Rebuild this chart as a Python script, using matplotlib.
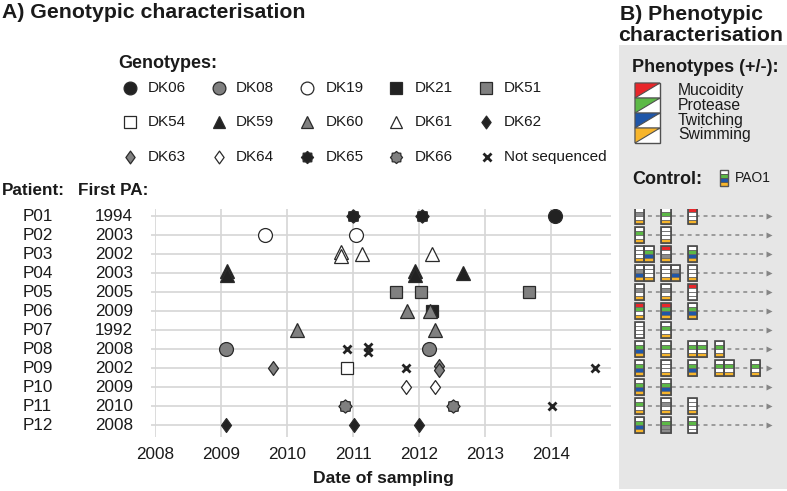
import numpy as np
import matplotlib
matplotlib.use('Agg')
import matplotlib.pyplot as plt
from matplotlib.path import Path
from matplotlib.patches import Rectangle, Polygon
from matplotlib.transforms import blended_transform_factory

plt.rcParams['font.family'] = ['Liberation Sans', 'DejaVu Sans']

# ---------------- data ----------------
patients = ['P01', 'P02', 'P03', 'P04', 'P05', 'P06', 'P07', 'P08', 'P09', 'P10', 'P11', 'P12']
first_pa = ['1994', '2003', '2002', '2003', '2005', '2009', '1992', '2008', '2002', '2009', '2010', '2008']

sample_patient = ['P01', 'P01', 'P01',
                  'P02', 'P02',
                  'P03', 'P03', 'P03', 'P03',
                  'P04', 'P04', 'P04', 'P04', 'P04',
                  'P05', 'P05', 'P05',
                  'P06', 'P06', 'P06',
                  'P07', 'P07',
                  'P08', 'P08', 'P08', 'P08', 'P08',
                  'P09', 'P09', 'P09', 'P09', 'P09', 'P09',
                  'P10', 'P10',
                  'P11', 'P11', 'P11',
                  'P12', 'P12', 'P12']
sample_date = [2011.00, 2012.05, 2014.06,
               2009.67, 2011.04,
               2010.82, 2010.82, 2011.14, 2012.19,
               2009.09, 2009.09, 2011.94, 2011.94, 2012.66,
               2011.65, 2012.03, 2013.66,
               2011.82, 2012.20, 2012.17,
               2010.15, 2012.24,
               2009.08, 2010.91, 2011.22, 2011.22, 2012.15,
               2009.79, 2010.91, 2011.80, 2012.30, 2012.30, 2014.66,
               2011.80, 2012.24,
               2010.88, 2012.51, 2014.02,
               2009.07, 2011.02, 2012.00]
sample_genotype = ['DK65', 'DK65', 'DK06',
                   'DK19', 'DK19',
                   'DK61', 'DK61', 'DK61', 'DK61',
                   'DK59', 'DK59', 'DK59', 'DK59', 'DK59',
                   'DK51', 'DK51', 'DK51',
                   'DK60', 'DK21', 'DK60',
                   'DK60', 'DK60',
                   'DK08', 'NS', 'NS', 'NS', 'DK08',
                   'DK63', 'DK54', 'NS', 'DK63', 'DK63', 'NS',
                   'DK64', 'DK64',
                   'DK66', 'DK66', 'NS',
                   'DK62', 'DK62', 'DK62']

genotypes = ['DK06', 'DK08', 'DK19', 'DK21', 'DK51',
             'DK54', 'DK59', 'DK60', 'DK61', 'DK62',
             'DK63', 'DK64', 'DK65', 'DK66', 'NS']
genotype_labels = ['DK06', 'DK08', 'DK19', 'DK21', 'DK51',
                   'DK54', 'DK59', 'DK60', 'DK61', 'DK62',
                   'DK63', 'DK64', 'DK65', 'DK66', 'Not sequenced']

xticks = [2008, 2009, 2010, 2011, 2012, 2013, 2014]

# phenotype isolates: patient, slot in the sequence, code
# code letters per segment (mucoidity, protease, twitching, swimming):
# colour letter = positive, 'w' = negative, 'n' = intermediate
pheno_patient = ['P01', 'P01', 'P01',
                 'P02', 'P02',
                 'P03', 'P03', 'P03', 'P03',
                 'P04', 'P04', 'P04', 'P04', 'P04',
                 'P05', 'P05', 'P05',
                 'P06', 'P06', 'P06',
                 'P07', 'P07',
                 'P08', 'P08', 'P08', 'P08', 'P08',
                 'P09', 'P09', 'P09', 'P09', 'P09', 'P09',
                 'P10', 'P10',
                 'P11', 'P11', 'P11',
                 'P12', 'P12', 'P12']
pheno_slot = [0, 2.8, 5.6,
              0, 2.8,
              0, 1, 2.8, 5.6,
              0, 1, 2.8, 3.8, 5.6,
              0, 2.8, 5.6,
              0, 2.8, 5.6,
              0, 2.8,
              0, 2.8, 5.6, 6.6, 8.4,
              0, 2.8, 5.6, 8.4, 9.4, 12.2,
              0, 2.8,
              0, 2.8, 5.6,
              0, 2.8, 5.6]
pheno_code = ['wnwy', 'wgwy', 'rwwy',
              'wgwy', 'wwwy',
              'wwwy', 'wgby', 'rwny', 'wgby',
              'wnby', 'wwwy', 'wwwy', 'wnby', 'wwwy',
              'wnwy', 'wnwy', 'rwww',
              'rgwy', 'rgby', 'wgby',
              'wwww', 'wgwy',
              'wgby', 'wgwy', 'wgwy', 'wgwy', 'wgwy',
              'wgby', 'wwwy', 'wgby', 'wgwy', 'wgwy', 'wgwy',
              'wgby', 'wgby',
              'wgwy', 'wnwy', 'wwwy',
              'wgby', 'wgnn', 'wgww']
phenotype_names = ['Mucoidity', 'Protease', 'Twitching', 'Swimming']
control_code = 'wgby'
arrow_end_slot = 13.63

# ---------------- styles ----------------
W, H = 787, 491
BLACK = '#222222'
GRAY = '#808080'
WHITE = '#ffffff'
EDGE = '#2a2a2a'
GRID = '#d6d6d6'
TXT = '#1a1a1a'
PCOL = {'r': '#e8262a', 'g': '#5cb946', 'b': '#1f56a8', 'y': '#f7b52b',
        'w': '#ffffff', 'n': '#8c8c8c'}
seg_letters = ['r', 'g', 'b', 'y']


def star_path(n=8, inner=0.8):
    ang = np.pi / 2 + np.arange(2 * n) * np.pi / n
    r = np.where(np.arange(2 * n) % 2 == 0, 1.0, inner)
    v = np.column_stack([r * np.cos(ang), r * np.sin(ang)])
    v = np.vstack([v, v[:1]])
    codes = [Path.MOVETO] + [Path.LINETO] * (2 * n - 1) + [Path.CLOSEPOLY]
    return Path(v, codes)


diamond = Path([(0, 1), (0.72, 0), (0, -1), (-0.72, 0), (0, 1)],
               [Path.MOVETO, Path.LINETO, Path.LINETO, Path.LINETO, Path.CLOSEPOLY])
star = star_path()

gstyle = {
    'DK06': ('o', BLACK, 10), 'DK08': ('o', GRAY, 10), 'DK19': ('o', WHITE, 10),
    'DK21': ('s', BLACK, 9), 'DK51': ('s', GRAY, 9), 'DK54': ('s', WHITE, 9),
    'DK59': ('^', BLACK, 10), 'DK60': ('^', GRAY, 10), 'DK61': ('^', WHITE, 10),
    'DK62': (diamond, BLACK, 10), 'DK63': (diamond, GRAY, 10), 'DK64': (diamond, WHITE, 10),
    'DK65': (star, BLACK, 9.5), 'DK66': (star, GRAY, 9.5), 'NS': ('x', BLACK, 5.5),
}

fig = plt.figure(figsize=(W / 100, H / 100), dpi=100)

# overlay axes in pixel coordinates for annotations
ov = fig.add_axes([0, 0, 1, 1])
ov.set_xlim(0, W)
ov.set_ylim(H, 0)
ov.axis('off')

# panel B background
ov.add_patch(Rectangle((619, 45), W - 619, 444, facecolor='#e6e6e6', edgecolor='none', zorder=0))

# ---------------- main axes ----------------
ax_bottom = 1 - 437 / H
ax_height = 228 / H
ax = fig.add_axes([155 / W, ax_bottom, 456 / W, ax_height])
ax.patch.set_alpha(0)
ax.set_xlim(2008, 2008 + 456 / 66)
ax.set_ylim(11.63, -0.37)
for s in ax.spines.values():
    s.set_visible(False)
ax.set_xticks(xticks)
ax.set_xticklabels([str(t) for t in xticks], fontsize=12.3, color=TXT)
ax.set_yticks(range(len(patients)))
ax.set_yticklabels([])
ax.tick_params(axis='x', length=0, pad=7)
ax.tick_params(axis='y', length=3, color=GRID, width=1.2)
ax.grid(True, color=GRID, linewidth=1.2)
ax.set_axisbelow(True)
ax.set_xlabel('Date of sampling', fontsize=12.6, fontweight='bold', color=TXT, labelpad=7)

pidx = {p: i for i, p in enumerate(patients)}
# offsets for duplicated samples (same patient, date, genotype)
keys = list(zip(sample_patient, sample_date, sample_genotype))
counts = {k: keys.count(k) for k in keys}
seen = {}
for p, d, g in keys:
    n = counts[(p, d, g)]
    k = seen.get((p, d, g), 0)
    seen[(p, d, g)] = k + 1
    off = 0.0 if n == 1 else (-0.1 + 0.2 * k / (n - 1)) * (1.3 if g == 'NS' else 1.0)
    y = pidx[p] + off
    m, fc, ms = gstyle[g]
    if g == 'NS':
        ax.plot(d, y, marker='x', ms=ms, mew=2.0, color=BLACK, ls='none', zorder=3)
    else:
        ax.plot(d, y, marker=m, ms=ms, mfc=fc, mec=EDGE, mew=0.9, ls='none', zorder=3)

# row labels
trans = blended_transform_factory(fig.transFigure, ax.transData)
for i, (p, f) in enumerate(zip(patients, first_pa)):
    fig.text(37.5 / W, i, p, transform=trans, ha='center', va='center', fontsize=12.3, color=TXT)
    fig.text(133 / W, i, f, transform=trans, ha='right', va='center', fontsize=12.3, color=TXT)

# headers / titles
ov.text(2, 17.5, 'A) Genotypic characterisation', fontsize=15.3, fontweight='bold', color=TXT, va='baseline')
ov.text(620, 19.5, 'B) Phenotypic', fontsize=15.3, fontweight='bold', color=TXT, va='baseline')
ov.text(618, 40.5, 'characterisation', fontsize=15.3, fontweight='bold', color=TXT, va='baseline')
ov.text(2, 195, 'Patient:', fontsize=12.3, fontweight='bold', color=TXT, va='baseline')
ov.text(78, 195, 'First PA:', fontsize=12.3, fontweight='bold', color=TXT, va='baseline')
ov.text(118, 68, 'Genotypes:', fontsize=13, fontweight='bold', color=TXT, va='baseline')

# genotype legend (5 columns x 3 rows)
col_m = [130, 219, 307, 396, 486]
col_t = [148, 236, 326, 415, 504]
row_y = [88, 122, 157]
for j, (g, lab) in enumerate(zip(genotypes, genotype_labels)):
    r, c = divmod(j, 5)
    m, fc, ms = gstyle[g]
    if g == 'NS':
        ov.plot(col_m[c] + 1, row_y[r], marker='x', ms=ms, mew=2.0, color=BLACK, ls='none')
    else:
        ov.plot(col_m[c], row_y[r], marker=m, ms=ms - 0.8, mfc=fc, mec=EDGE, mew=0.9, ls='none')
    ov.text(col_t[c], row_y[r], lab, fontsize=11, color=TXT, va='center', ha='left')

# phenotype legend
ov.text(632, 72, 'Phenotypes (+/-):', fontsize=13, fontweight='bold', color=TXT, va='baseline')
cx0, cw, chh, cy0 = 635, 25, 15, 83
for k, (name, letter) in enumerate(zip(phenotype_names, seg_letters)):
    y0 = cy0 + k * chh
    ov.add_patch(Rectangle((cx0, y0), cw, chh, facecolor='white', edgecolor='#505050', lw=1.0, zorder=2))
    ov.add_patch(Polygon([(cx0, y0), (cx0 + cw, y0), (cx0, y0 + chh)], closed=True,
                         facecolor=PCOL[letter], edgecolor='#505050', lw=0.8, zorder=3))
    ov.text(678, y0 + chh / 2 - 0.5, name, fontsize=11.3, color=TXT, va='center', ha='left')

ov.text(632, 184, 'Control:', fontsize=13, fontweight='bold', color=TXT, va='baseline')
for k, ch in enumerate(control_code):
    ov.add_patch(Rectangle((720, 170 + k * 4), 8, 4, facecolor=PCOL[ch], edgecolor='#555555', lw=0.6, zorder=3))
ov.add_patch(Rectangle((720, 170), 8, 16, facecolor='none', edgecolor='#555555', lw=1.0, zorder=4))
ov.text(735, 178, 'PAO1', fontsize=10, color=TXT, va='center', ha='left')

# ---------------- panel B axes ----------------
axB = fig.add_axes([619 / W, ax_bottom, 168 / W, ax_height])
axB.patch.set_alpha(0)
axB.set_xlim(-(639.5 - 619) / 9.5, (W - 639.5) / 9.5)
axB.set_ylim(11.63, -0.37)
axB.axis('off')

seg_h = 0.21
for i, p in enumerate(patients):
    axB.plot([0, arrow_end_slot], [i, i], color='#959595', lw=1.3, ls=(0, (2.2, 2.2)), zorder=1)
    axB.plot(arrow_end_slot, i, marker='>', ms=4, color='#858585', mec='none', zorder=1)

for p, s, code in zip(pheno_patient, pheno_slot, pheno_code):
    i = pidx[p]
    top = i - 2 * seg_h
    for k, ch in enumerate(code):
        axB.add_patch(Rectangle((s - 0.5, top + k * seg_h), 1.0, seg_h,
                                facecolor=PCOL[ch], edgecolor='#6a6a6a', lw=0.6, zorder=3))
    axB.add_patch(Rectangle((s - 0.5, top), 1.0, 4 * seg_h, facecolor='none',
                            edgecolor='#4a4a4a', lw=1.2, zorder=4))

fig.savefig('out.png', dpi=100)
